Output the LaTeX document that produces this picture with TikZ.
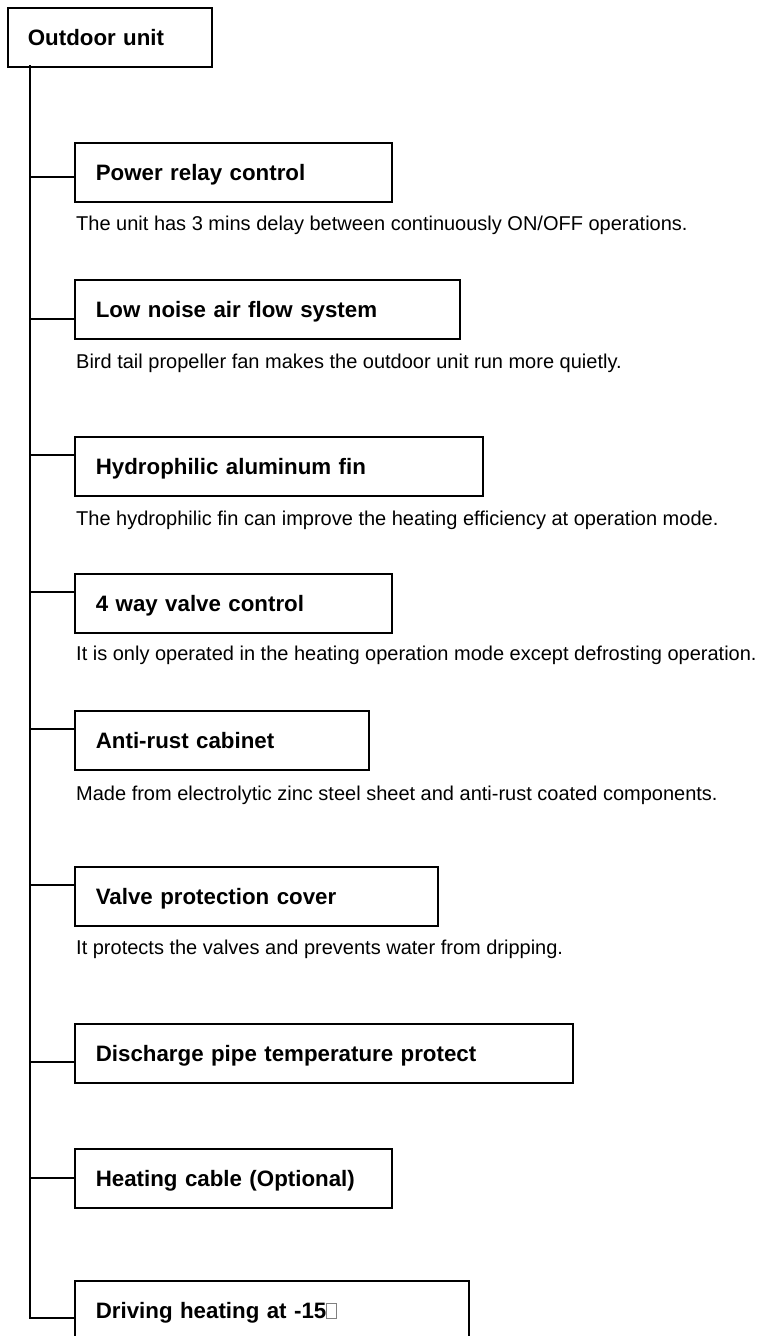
\documentclass[tikz,border=0pt]{standalone}
\usepackage{fontspec}
\setmainfont{Liberation Sans}
\newcommand{\tofubox}{{\color{gray}\setlength{\fboxrule}{0.8pt}\setlength{\fboxsep}{0pt}\fbox{\rule{0pt}{14.5pt}\hspace{8.5pt}}}}
\begin{document}
\begin{tikzpicture}[x=1pt,y=-1pt,
  featbox/.style={draw=black, line width=1.7pt, anchor=north west, minimum height=59pt,
    inner xsep=21pt, inner ysep=0pt, text height=16pt, text depth=0pt, align=left,
    font=\fontsize{22.3}{26}\selectfont\bfseries},
  desc/.style={anchor=base west, inner sep=0pt, font=\fontsize{20}{24}\selectfont},
  link/.style={line width=1.7pt, line cap=rect}]
\useasboundingbox (0,0) rectangle (764,1336);

% root
\node[featbox, inner xsep=20pt, text width=164pt] (ou) at (7,7) {Outdoor unit};

% feature boxes
\node[featbox, text width=275pt] (b1) at (74,142)  {Power relay control};
\node[featbox, text width=343pt] (b2) at (74,279)  {Low noise air flow system};
\node[featbox, text width=366pt] (b3) at (74,436)  {Hydrophilic aluminum fin};
\node[featbox, text width=275pt] (b4) at (74,573)  {4 way valve control};
\node[featbox, text width=252pt] (b5) at (74,710)  {Anti-rust cabinet};
\node[featbox, text width=321pt] (b6) at (74,866)  {Valve protection cover};
\node[featbox, text width=456pt] (b7) at (74,1023) {Discharge pipe temperature protect};
\node[featbox, text width=275pt] (b8) at (74,1148) {Heating cable (Optional)};
\node[featbox, text width=352pt] (b9) at (74,1280) {Driving heating at -15\tofubox};

% descriptions
\node[desc] (d1) at (76,230.5) {The unit has 3 mins delay between continuously ON/OFF operations.};
\node[desc] (d2) at (76,368)   {Bird tail propeller fan makes the outdoor unit run more quietly.};
\node[desc] (d3) at (76,525)   {The hydrophilic fin can improve the heating efficiency at operation mode.};
\node[desc] (d4) at (76,660)   {It is only operated in the heating operation mode except defrosting operation.};
\node[desc] (d5) at (76,800)   {Made from electrolytic zinc steel sheet and anti-rust coated components.};
\node[desc] (d6) at (76,954)   {It protects the valves and prevents water from dripping.};

% trunk points
\coordinate (t0) at (30,66);
\coordinate (t1) at (30,177);
\coordinate (t2) at (30,319);
\coordinate (t3) at (30,455);
\coordinate (t4) at (30,592);
\coordinate (t5) at (30,729);
\coordinate (t6) at (30,885);
\coordinate (t7) at (30,1062);
\coordinate (t8) at (30,1178);
\coordinate (t9) at (30,1318);

\draw[link] (t0) -- (t9);
\foreach \i in {1,...,9}{
  \draw[link] (t\i) -- (t\i -| b\i.west);
}
\end{tikzpicture}
\end{document}
